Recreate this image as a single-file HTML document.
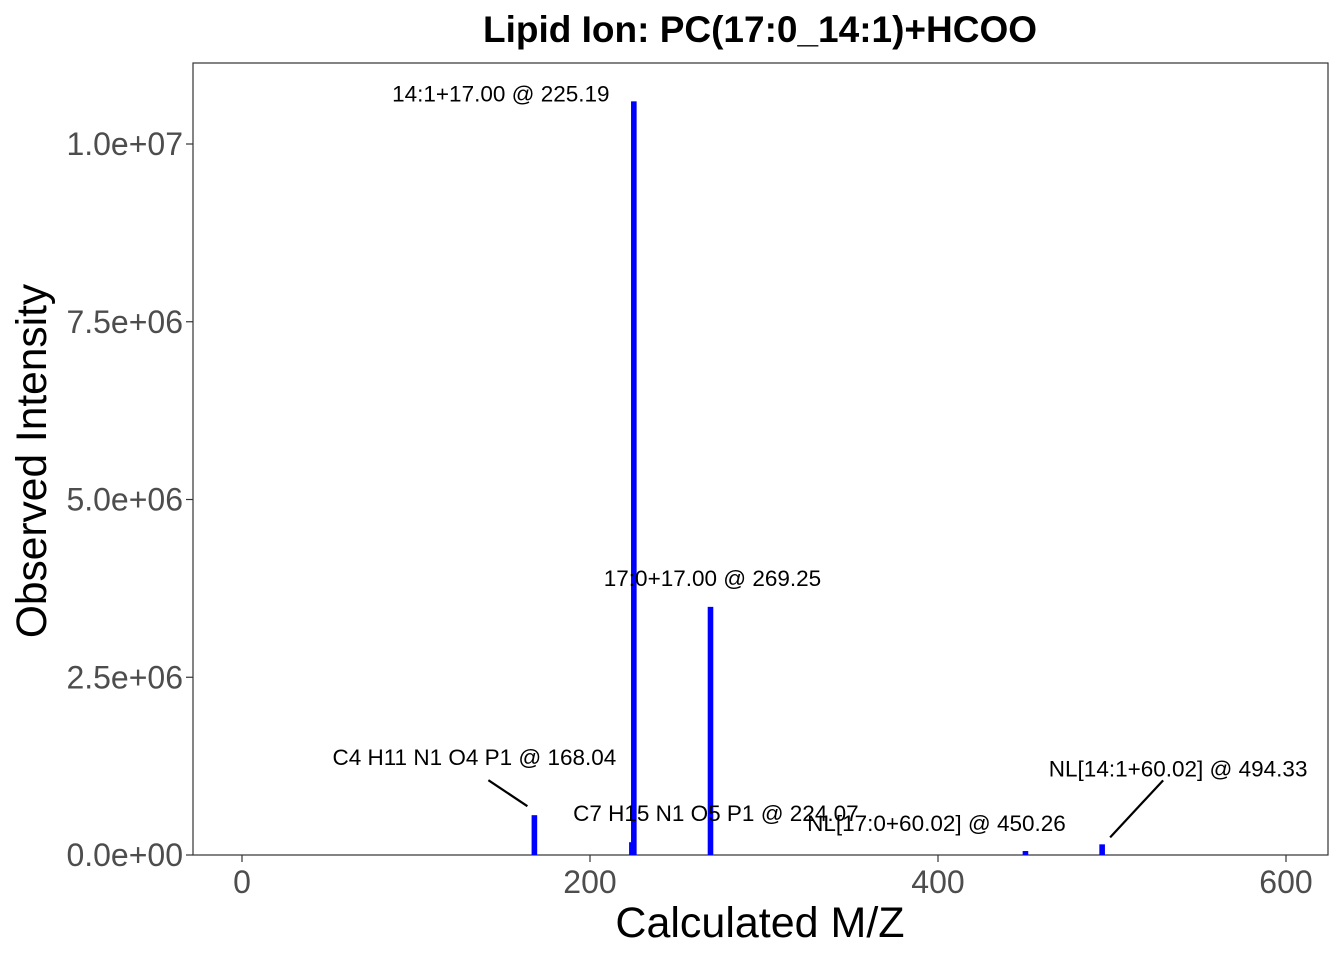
<!DOCTYPE html>
<html><head><meta charset="utf-8">
<style>
body{margin:0;background:#fff;}
svg{display:block;font-family:"Liberation Sans",Arial,sans-serif;}
</style></head>
<body>
<svg id="chart" width="1344" height="960"></svg>
<script>
const mz = [168.04, 224.07, 225.19, 269.25, 450.26, 494.33];
const intensity = [560000, 180000, 10600000, 3490000, 56000, 150000];
const labels = ["C4 H11 N1 O4 P1 @ 168.04","C7 H15 N1 O5 P1 @ 224.07","14:1+17.00 @ 225.19","17:0+17.00 @ 269.25","NL[17:0+60.02] @ 450.26","NL[14:1+60.02] @ 494.33"];
const xTicks = [0, 200, 400, 600];
const yTicks = [0, 2500000, 5000000, 7500000, 10000000];
const yTickLabels = ["0.0e+00","2.5e+06","5.0e+06","7.5e+06","1.0e+07"];
// label placement offsets (repel-style), px
const lblDx = [-60, 84, -133, 2, -89, 76];
const lblDy = [-50, -21, 0, -21, -20, -68];
// leader line offsets relative to bar top: [x1,y1,x2,y2] or null
const lblLine = [[-7,-9,-46,-35], null, null, null, null, [8,-7,61,-64]];

const NS = "http://www.w3.org/2000/svg";
const svg = document.getElementById('chart');
const L=193, R=1328, T=63, B=855;
const x = v => 242 + v * 1.74;
const y = v => 855 - v * 711 / 1e7;
function mk(tag, attrs, text){
  const e = document.createElementNS(NS, tag);
  for (const k in attrs) e.setAttribute(k, attrs[k]);
  if (text !== undefined) e.textContent = text;
  svg.appendChild(e); return e;
}
let e;
e = mk('rect',{x:L,y:T,width:R-L,height:B-T,fill:'#fff',stroke:'#333','stroke-width':1.2});



mz.forEach((m,i)=>{
  const b = mk('rect',{x:x(m)-2.8,y:y(intensity[i]),width:5.6,height:B-y(intensity[i]),fill:'#0000ff'});
  
  
});
mz.forEach((m,i)=>{
  const bx = x(m), by = y(intensity[i]);
  const tx = bx + lblDx[i], ty = by + lblDy[i];
  const o = lblLine[i];
  if (o) {
    const ln = mk('line',{x1:bx+o[0],y1:by+o[1],x2:bx+o[2],y2:by+o[3],stroke:'#000','stroke-width':2.2});
    
    
  }
  const t = mk('text',{x:tx,y:ty,'text-anchor':'middle','font-size':22.5,fill:'#000'},labels[i]);
  
  
});

xTicks.forEach(v=>{
  const tk = mk('line',{x1:x(v),x2:x(v),y1:B,y2:B+7,stroke:'#333','stroke-width':1.2});
  
  
  const t = mk('text',{x:x(v),y:B+38,'text-anchor':'middle','font-size':32,fill:'#4d4d4d'},String(v));
  
  
});
yTicks.forEach((v,i)=>{
  const tk = mk('line',{x1:L-7,x2:L,y1:y(v),y2:y(v),stroke:'#333','stroke-width':1.2});
  
  
  const t = mk('text',{x:L-10,y:y(v)+11,'text-anchor':'end','font-size':32,fill:'#4d4d4d'},yTickLabels[i]);
  
  
});
e = mk('text',{x:760,y:937,'text-anchor':'middle','font-size':43,fill:'#000'},'Calculated M/Z');


e = mk('text',{x:0,y:0,'text-anchor':'middle','font-size':42.5,fill:'#000',transform:'translate(46,461) rotate(-90)'},'Observed Intensity');


e = mk('text',{x:760,y:42,'text-anchor':'middle','font-size':37,'font-weight':'bold',fill:'#000'},'Lipid Ion: PC(17:0_14:1)+HCOO');


</script>
</body></html>
